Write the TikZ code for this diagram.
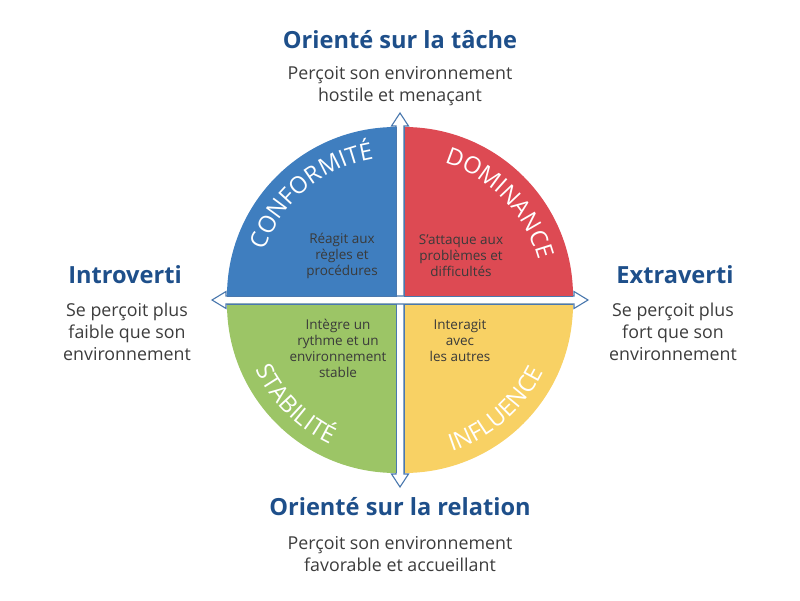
\documentclass[tikz,border=0pt]{standalone}
\usepackage{fontspec}
\setmainfont{Open Sans}
\usetikzlibrary{decorations.text,calc}
\definecolor{qblue}{HTML}{3F7EBF}
\definecolor{qred}{HTML}{DD4A53}
\definecolor{qgreen}{HTML}{9CC566}
\definecolor{qyellow}{HTML}{F8D164}
\definecolor{ttlc}{HTML}{1E4F8A}
\definecolor{descc}{HTML}{3C3C3C}
\definecolor{innc}{HTML}{3A3A3A}
\definecolor{arrc}{HTML}{4A78AE}
\newcommand\qlab{\fontsize{23.5}{23.5}\selectfont}
\begin{document}
\begin{tikzpicture}[x=1pt,y=1pt,
  ttl/.style={font=\bfseries\fontsize{23.6}{28}\selectfont, text=ttlc, inner sep=0pt},
  desc/.style={font=\fontsize{17.8}{22}\selectfont, text=descc, align=center, inner sep=0pt},
  innertext/.style={font=\fontsize{13.5}{16}\selectfont, text=innc, align=center, inner sep=0pt},
  arrowshape/.style={fill=white, draw=arrc, line width=1.1pt, line join=miter},
  edge/.style={draw=arrc, line width=0.8pt}]
\useasboundingbox (0,0) rectangle (800,600);

% arrows
\draw[arrowshape] (400,487) -- (408.5,474) -- (404,474) -- (404,126) -- (408.5,126) -- (400,113)
  -- (391.5,126) -- (396,126) -- (396,474) -- (391.5,474) -- cycle;
\draw[arrowshape] (588,300) -- (574,308.5) -- (574,304) -- (226,304) -- (226,308.5) -- (212,300)
  -- (226,291.5) -- (226,296) -- (574,296) -- (574,291.5) -- cycle;

% quadrant corners
\coordinate (cB) at (396,304);
\coordinate (cR) at (404,304);
\coordinate (cG) at (396,296);
\coordinate (cY) at (404,296);

\fill[qblue] (cB) -- ++(-169,0) arc[start angle=180,end angle=90,radius=169] -- cycle;
\fill[qred] (cR) -- ++(0,169) arc[start angle=90,end angle=0,radius=169] -- cycle;
\fill[qgreen] (cG) -- ++(-169,0) arc[start angle=180,end angle=270,radius=169] -- cycle;
\fill[qyellow] (cY) -- ++(0,-169) arc[start angle=270,end angle=360,radius=169] -- cycle;

\draw[edge] ($(cB)+(-169,0)$) -- (cB) -- ($(cB)+(0,169)$);
\draw[edge] ($(cR)+(169,0)$) -- (cR) -- ($(cR)+(0,169)$);
\draw[edge] ($(cG)+(-169,0)$) -- (cG) -- ($(cG)+(0,-169)$);
\draw[edge] ($(cY)+(169,0)$) -- (cY) -- ($(cY)+(0,-169)$);

% curved labels
\path[decorate, decoration={text along path, text={|\qlab|CONFORMITÉ}, text align=center, text color=white}]
  ($(cB)+(175:139)$) arc[start angle=175, end angle=85, radius=139];
\path[decorate, decoration={text along path, text={|\qlab|DOMINANCE}, text align=center, text color=white}]
  ($(cR)+(89:139)$) arc[start angle=89, end angle=-1, radius=139];
\path[decorate, decoration={text along path, text={|\qlab|STABILITÉ}, text align=center, text color=white}]
  ($(cG)+(180:155)$) arc[start angle=180, end angle=270, radius=155];
\path[decorate, decoration={text along path, text={|\qlab|INFLUENCE}, text align=center, text color=white}]
  ($(cY)+(266:155)$) arc[start angle=266, end angle=356, radius=155];

% inner texts
\node[innertext] (tB) at (342,344) {Réagit aux\\règles et\\procédures};
\node[innertext] (tR) at (461,344) {S’attaque aux\\problèmes et\\difficultés};
\node[innertext] (tG) at (338,251.5) {Intègre un\\rythme et un\\environnement\\stable};
\node[innertext] (tY) at (460,259) {Interagit\\avec\\les autres};

% outer titles
\node[ttl] (top) at (400,560) {Orienté sur la tâche};
\node[desc] (topd) at (400,514) {Perçoit son environnement\\hostile et menaçant};
\node[ttl] (left) at (125,325) {Introverti};
\node[desc] (leftd) at (127,268.5) {Se perçoit plus\\faible que son\\environnement};
\node[ttl] (right) at (675,325) {Extraverti};
\node[desc] (rightd) at (673,268.5) {Se perçoit plus\\fort que son\\environnement};
\node[ttl] (bot) at (400,93) {Orienté sur la relation};
\node[desc] (botd) at (400,46) {Perçoit son environnement\\favorable et accueillant};
\end{tikzpicture}
\end{document}
